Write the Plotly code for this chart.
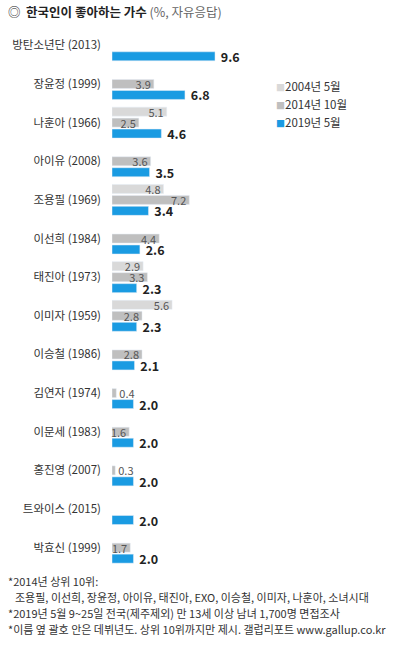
import plotly.graph_objects as go

singers = ["방탄소년단 (2013)", "장윤정 (1999)", "나훈아 (1966)", "아이유 (2008)", "조용필 (1969)",
           "이선희 (1984)", "태진아 (1973)", "이미자 (1959)", "이승철 (1986)", "김연자 (1974)",
           "이문세 (1983)", "홍진영 (2007)", "트와이스 (2015)", "박효신 (1999)"]
y2004 = [None, None, 5.1, None, 4.8, None, 2.9, 5.6, None, None, None, None, None, None]
y2014 = [None, 3.9, 2.5, 3.6, 7.2, 4.4, 3.3, 2.8, 2.8, 0.4, 1.6, 0.3, None, 1.7]
y2019 = [9.6, 6.8, 4.6, 3.5, 3.4, 2.6, 2.3, 2.3, 2.1, 2.0, 2.0, 2.0, 2.0, 2.0]
series_names = ["2004년 5월", "2014년 10월", "2019년 5월"]
colors = ["#d9d9d9", "#bfbfbf", "#1a9be2"]

FONT = "Noto Sans CJK KR"
W, H = 397, 650
L, R, T, B = 112, 0, 26, 83
PW, PH = W - L - R, H - T - B


def px(x):
    return (x - L) / PW


def py(y):
    return (H - B - y) / PH


def fmt(v):
    return "" if v is None else f"{v:.1f}"


def gray_pos(vals):
    return ["outside" if (v is not None and v < 1.0) else "inside" for v in vals]


fig = go.Figure()
for vals, name, col in [(y2004, series_names[0], colors[0]), (y2014, series_names[1], colors[1])]:
    fig.add_trace(go.Bar(
        y=singers, x=vals, name=name, orientation="h", marker_color=col,
        text=[fmt(v) for v in vals], textposition=gray_pos(vals), insidetextanchor="end",
        textangle=0,
        textfont=dict(family=FONT, size=11, color="#555555"),
        cliponaxis=False, showlegend=False,
    ))
fig.add_trace(go.Bar(
    y=singers, x=y2019, name=series_names[2], orientation="h", marker_color=colors[2],
    text=["\u00a0" + fmt(v) for v in y2019], textposition="outside", textangle=0,
    textfont=dict(family=FONT, size=12.5, color="#222222", weight="bold"),
    cliponaxis=False, showlegend=False,
))

annotations = []
# title
annotations.append(dict(
    x=px(6), y=py(12), xref="paper", yref="paper", xanchor="left", yanchor="middle",
    text="◎  <b>한국인이 좋아하는 가수</b> <span style='color:#666666'>(%, 자유응답)</span>",
    showarrow=False, font=dict(family=FONT, size=12.5, color="#222222"),
))
# legend
for i, (name, col) in enumerate(zip(series_names, colors)):
    annotations.append(dict(
        x=px(274), y=py(86 + 18 * i), xref="paper", yref="paper", xanchor="left", yanchor="middle",
        text=f"<span style='color:{col}; font-size:9px'>■</span>{name}",
        showarrow=False, font=dict(family=FONT, size=11.5, color="#333333"),
    ))
# footnotes
notes = [
    (6, 581, "*2014년 상위 10위:"),
    (13, 597, "조용필, 이선희, 장윤정, 아이유, 태진아, EXO, 이승철, 이미자, 나훈아, 소녀시대"),
    (6, 613, "*2019년 5월 9~25일 전국(제주제외) 만 13세 이상 남녀 1,700명 면접조사"),
    (6, 629, "*이름 옆 괄호 안은 데뷔년도. 상위 10위까지만 제시. 갤럽리포트 www.gallup.co.kr"),
]
for x, y, t in notes:
    annotations.append(dict(
        x=px(x), y=py(y), xref="paper", yref="paper", xanchor="left", yanchor="middle",
        text=t, showarrow=False, font=dict(family=FONT, size=11, color="#333333"),
    ))

fig.update_layout(
    width=W, height=H, margin=dict(l=L, r=R, t=T, b=B, pad=0),
    paper_bgcolor="white", plot_bgcolor="white",
    barmode="group", bargap=0.148, bargroupgap=0.18,
    uniformtext=dict(minsize=11, mode="show"),
    annotations=annotations,
    xaxis=dict(range=[0, PW / 10.73], visible=False, fixedrange=True),
    yaxis=dict(autorange="reversed", showgrid=False, showline=False, zeroline=False,
               ticks="", ticklabelstandoff=10,
               tickfont=dict(family=FONT, size=11.5, color="#333333")),
    showlegend=False,
)
fig.write_html("out.html")
